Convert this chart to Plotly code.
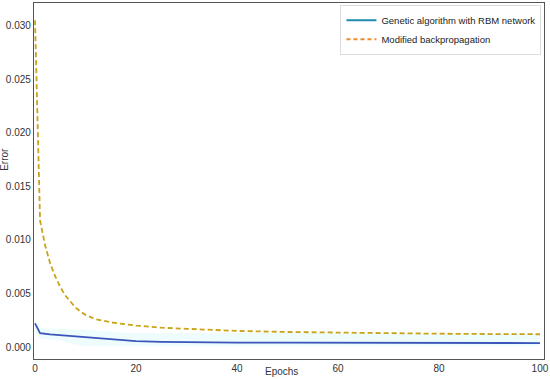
import plotly.graph_objects as go

ga_epochs = [0, 1, 3, 5, 8, 10, 13, 15, 18, 20, 25, 30, 40, 50, 60, 70, 80, 90, 100]
ga_error = [0.0022, 0.0013, 0.00118, 0.0011, 0.00098, 0.0009, 0.00078, 0.0007, 0.0006, 0.00055,
            0.00048, 0.00044, 0.00041, 0.0004, 0.00039, 0.00039, 0.00038, 0.00038, 0.00037]

bp_epochs = [0, 1, 2, 3, 4, 5, 6, 7, 8, 9, 10, 12, 15, 20, 25, 30, 40, 50, 60, 70, 80, 90, 100]
bp_error = [0.0305, 0.0118, 0.0095, 0.0078, 0.0066, 0.0056, 0.0048, 0.0042, 0.0037, 0.0033, 0.0030,
            0.0026, 0.0023, 0.0020, 0.0018, 0.0017, 0.0015, 0.0014, 0.00133, 0.00128, 0.00124,
            0.00121, 0.00119]

ga_band_low = [0.0012, 0.0008, 0.0007, 0.0006, 0.0002, 0.0001, 0.0001, 0.0001, 0.0001, 0.0001,
               0.0001, 0.0001, 0.0001, 0.0001, 0.0001, 0.0001, 0.0001, 0.0001, 0.0001]
ga_band_high = [0.0025, 0.0018, 0.0017, 0.0017, 0.0016, 0.0016, 0.0015, 0.0014, 0.0013, 0.0013,
                0.0013, 0.0013, 0.0013, 0.0013, 0.0013, 0.0013, 0.0013, 0.0013, 0.0013]

legend_names = ["Genetic algorithm with RBM network", "Modified backpropagation"]
x_ticks = [0, 20, 40, 60, 80, 100]
y_ticks = [0.000, 0.005, 0.010, 0.015, 0.020, 0.025, 0.030]

fig = go.Figure()

fig.add_trace(go.Scatter(x=ga_epochs, y=ga_band_low, mode="lines", line=dict(width=0),
                         showlegend=False, hoverinfo="skip"))
fig.add_trace(go.Scatter(x=ga_epochs, y=ga_band_high, mode="lines", line=dict(width=0),
                         fill="tonexty", fillcolor="rgba(200,245,250,0.3)",
                         showlegend=False, hoverinfo="skip"))

fig.add_trace(go.Scatter(x=ga_epochs, y=ga_error, mode="lines",
                         line=dict(color="#3a56b8", width=1.8), showlegend=False))
fig.add_trace(go.Scatter(x=bp_epochs, y=bp_error, mode="lines",
                         line=dict(color="#c9a418", width=1.8, dash="5px,3px"), showlegend=False))

fig.add_trace(go.Scatter(x=[None], y=[None], mode="lines", name=legend_names[0],
                         line=dict(color="#1f8ab0", width=2)))
fig.add_trace(go.Scatter(x=[None], y=[None], mode="lines", name=legend_names[1],
                         line=dict(color="#f08a2a", width=2, dash="4px,3px")))

fig.update_layout(
    width=550, height=379,
    margin=dict(l=34, r=6, t=3, b=20),
    paper_bgcolor="white", plot_bgcolor="white",
    font=dict(family="Liberation Sans, Arial, sans-serif", size=10, color="#333"),
    legend=dict(x=0.995, y=0.995, xanchor="right", yanchor="top", traceorder="normal",
                bgcolor="white", bordercolor="#dddddd", borderwidth=1,
                font=dict(size=9.5, color="#222"), tracegroupgap=0,
                itemwidth=30),
    xaxis=dict(range=[-0.2, 100.8], tickvals=x_ticks, showgrid=False, zeroline=False,
               showline=True, mirror=True, linecolor="#555", linewidth=1.2,
               ticks="", ticklen=0, automargin=False,
               tickfont=dict(size=10, color="#333")),
    yaxis=dict(range=[-0.00112, 0.0321], tickvals=y_ticks, tickformat=".3f",
               showgrid=False, zeroline=False,
               showline=True, mirror=True, linecolor="#555", linewidth=1.2,
               ticks="", ticklen=0, automargin=False,
               tickfont=dict(size=10, color="#333")),
    annotations=[
        dict(text="Epochs", xref="paper", yref="paper", x=0.486, y=-0.034,
             xanchor="center", yanchor="middle", showarrow=False,
             font=dict(size=10, color="#333")),
        dict(text="Error", xref="paper", yref="paper", x=-0.057, y=0.562,
             xanchor="center", yanchor="middle", showarrow=False, textangle=-90,
             font=dict(size=10, color="#333")),
    ],
)

fig.write_html("out.html", config={"displayModeBar": False})

with open("out.html", "r", encoding="utf-8") as f:
    html = f.read()
html = html.replace("<head>", "<head><style>html,body{margin:0;padding:0;overflow:hidden;}</style>", 1)
with open("out.html", "w", encoding="utf-8") as f:
    f.write(html)
